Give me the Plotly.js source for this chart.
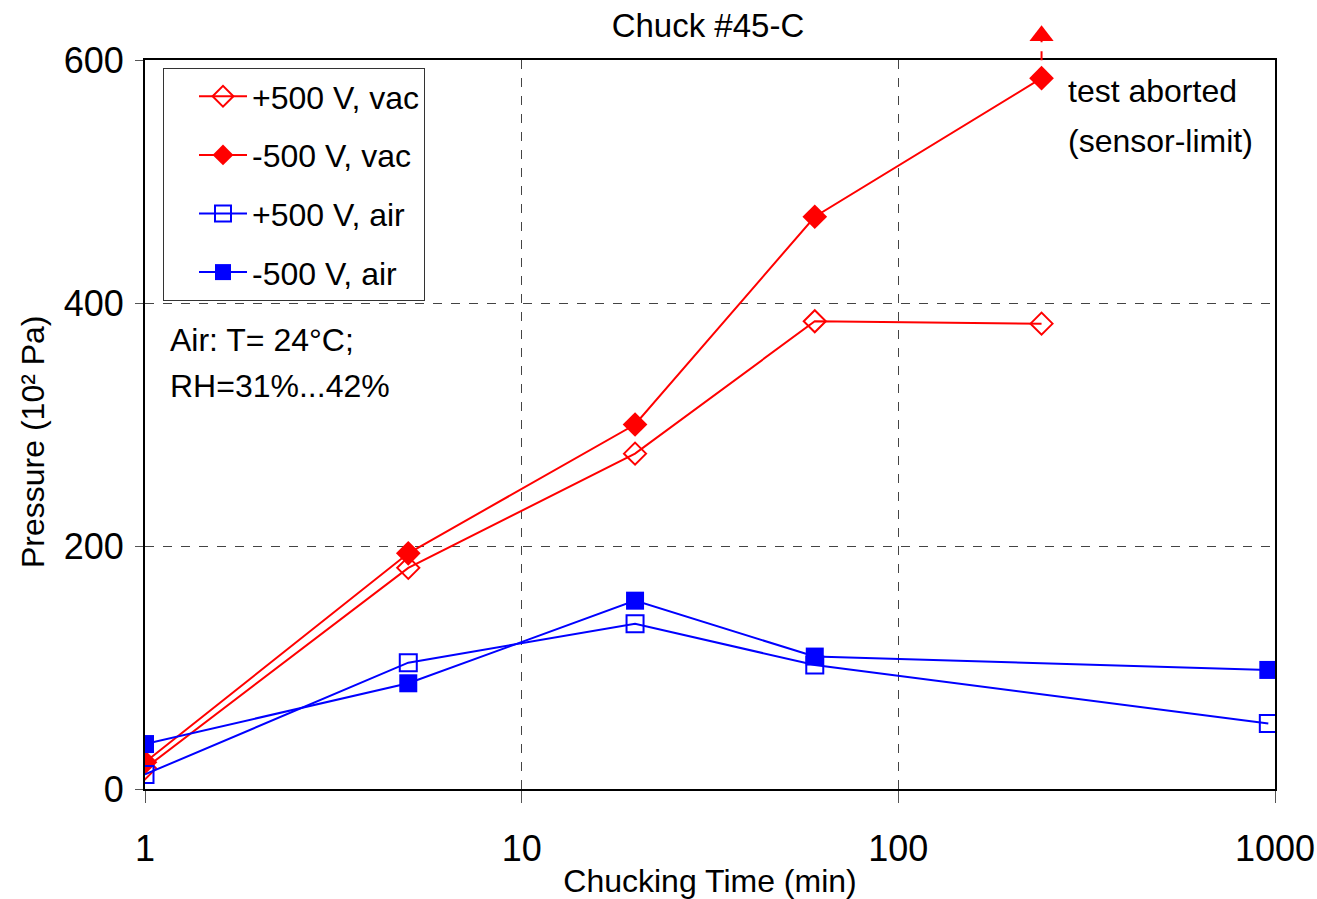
<!DOCTYPE html>
<html>
<head>
<meta charset="utf-8">
<script src="https://cdn.plot.ly/plotly-3.0.1.min.js"></script>
<style>html,body{margin:0;padding:0;background:#fff;}#chart{width:1317px;height:899px;}</style>
</head>
<body>
<div id="chart"></div>
<script>
// Chucking time (min)
const timesVac = [1, 5, 20, 60, 240];
const timesAir = [1, 5, 20, 60, 960];
// Pressure (10^2 Pa)
const posVac = [17, 182, 276, 385, 383];
const negVac = [22, 194, 300, 471, 585];
const posAir = [12, 104, 136, 102, 54];
const negAir = [37, 87, 155, 109, 98];
// sensor-limit indicator (test aborted)
const abortX = [240, 240];
const abortY = [585, 620];
const seriesNames = ["+500 V, vac", "-500 V, vac", "+500 V, air", "-500 V, air"];
const xTicks = [1, 10, 100, 1000];
const yTicks = [0, 200, 400, 600];

const FONT = "'Liberation Sans', Arial, sans-serif";
const RED = "#ff0000", BLUE = "#0000ff";

// plot geometry (px)
const W = 1317, H = 899, T = 20, B = 110, L = 145, R = 42;
const plotW = W - L - R;
const plotH = H - T - B;          // full overlay subplot height
const mainH = 729;                // main axes height
const mainTop = mainH / plotH;    // main y-domain top (fraction)
const yMax = 600;
const px = v => (v - L) / plotW;           // pixel x -> paper x
const py = v => (H - B - v) / plotH;       // pixel y -> paper y

const traces = [
  {x: timesVac, y: posVac, name: seriesNames[0], legendgroup: "a", mode: "lines+markers",
   line: {color: RED, width: 2}, marker: {symbol: "diamond-open", size: 17, color: RED, line: {width: 2, color: RED}}},
  {x: timesVac, y: negVac, name: seriesNames[1], legendgroup: "b", mode: "lines+markers",
   line: {color: RED, width: 2}, marker: {symbol: "diamond", size: 19, color: RED}},
  {x: timesAir, y: posAir, name: seriesNames[2], legendgroup: "c", mode: "lines+markers",
   line: {color: BLUE, width: 2}, marker: {symbol: "square-open", size: 17, color: BLUE, line: {width: 2, color: BLUE}}},
  {x: timesAir, y: negAir, name: seriesNames[3], legendgroup: "d", mode: "lines+markers",
   line: {color: BLUE, width: 2}, marker: {symbol: "square", size: 18, color: BLUE}},
  {x: abortX, y: abortY, xaxis: "x2", yaxis: "y2", showlegend: false, mode: "lines", hoverinfo: "skip",
   line: {color: RED, width: 2, dash: "dash"}},
  {x: abortX.slice(-1), y: abortY.slice(-1), xaxis: "x2", yaxis: "y2", showlegend: false, mode: "markers", hoverinfo: "skip",
   cliponaxis: false, opacity: 1,
   marker: {symbol: "triangle-up", size: 21, color: RED, opacity: 1, line: {width: 0}}}
];

const layout = {
  width: W, height: H,
  margin: {l: L, r: R, t: T, b: B},
  paper_bgcolor: "#fff", plot_bgcolor: "rgba(0,0,0,0)",
  font: {family: FONT, color: "#000", size: 32},
  title: {text: "Chuck #45-C", x: 0.4982, xref: "paper", y: 1 - 25 / H, yref: "container", yanchor: "middle",
          font: {family: FONT, size: 33, color: "#000"}},
  showlegend: true,
  legend: {
    x: px(163), y: py(68), xanchor: "left", yanchor: "top",
    bgcolor: "#fff", bordercolor: "#333", borderwidth: 1,
    font: {family: FONT, size: 32, color: "#000"},
    traceorder: "grouped", tracegroupgap: 14, itemwidth: 48, indentation: 30,
    entrywidth: 200, entrywidthmode: "pixels"
  },
  xaxis: {
    type: "log", range: [0, 3], domain: [0, 1], anchor: "y",
    tickvals: xTicks, ticktext: xTicks.map(String),
    ticks: "outside", ticklen: 12, tickcolor: "#555", tickwidth: 1,
    ticklabelstandoff: 15,
    tickfont: {family: FONT, size: 36, color: "#000"},
    showgrid: true, gridcolor: "#444", griddash: "dash", gridwidth: 1,
    showline: true, linecolor: "#000", linewidth: 2, mirror: true,
    zeroline: false,
    title: {text: "Chucking Time (min)", standoff: 10, font: {family: FONT, size: 32, color: "#000"}}
  },
  yaxis: {
    range: [0, yMax], domain: [0, mainTop], anchor: "x",
    tickvals: yTicks, ticktext: yTicks.map(String),
    ticks: "outside", ticklen: 8, tickcolor: "#555", tickwidth: 1,
    ticklabelstandoff: 4,
    tickfont: {family: FONT, size: 36, color: "#000"},
    showgrid: true, gridcolor: "#444", griddash: "dash", gridwidth: 1,
    showline: true, linecolor: "#000", linewidth: 2, mirror: true,
    zeroline: false
  },
  xaxis2: {type: "log", range: [0, 3], domain: [0, 1], anchor: "y2", visible: false, showgrid: false, zeroline: false},
  yaxis2: {range: [0, yMax * plotH / mainH], domain: [0, 1], anchor: "x2", visible: false, showgrid: false, zeroline: false},
  annotations: [
    {xref: "paper", yref: "paper", x: px(33), y: py(442), xanchor: "center", yanchor: "middle", textangle: -90,
     showarrow: false, text: "Pressure (10² Pa)", font: {family: FONT, size: 32, color: "#000"}},
    {xref: "paper", yref: "paper", x: px(168), y: py(340), xanchor: "left", yanchor: "middle",
     showarrow: false, text: "Air: T= 24°C;", font: {family: FONT, size: 32, color: "#000"}},
    {xref: "paper", yref: "paper", x: px(168), y: py(386), xanchor: "left", yanchor: "middle",
     showarrow: false, text: "RH=31%...42%", font: {family: FONT, size: 32, color: "#000"}},
    {xref: "paper", yref: "paper", x: px(1066), y: py(91), xanchor: "left", yanchor: "middle",
     showarrow: false, text: "test aborted", font: {family: FONT, size: 32, color: "#000"}},
    {xref: "paper", yref: "paper", x: px(1066), y: py(141), xanchor: "left", yanchor: "middle",
     showarrow: false, text: "(sensor-limit)", font: {family: FONT, size: 32, color: "#000"}}
  ]
};

Plotly.newPlot("chart", traces, layout, {displayModeBar: false, staticPlot: true});
</script>
</body>
</html>
